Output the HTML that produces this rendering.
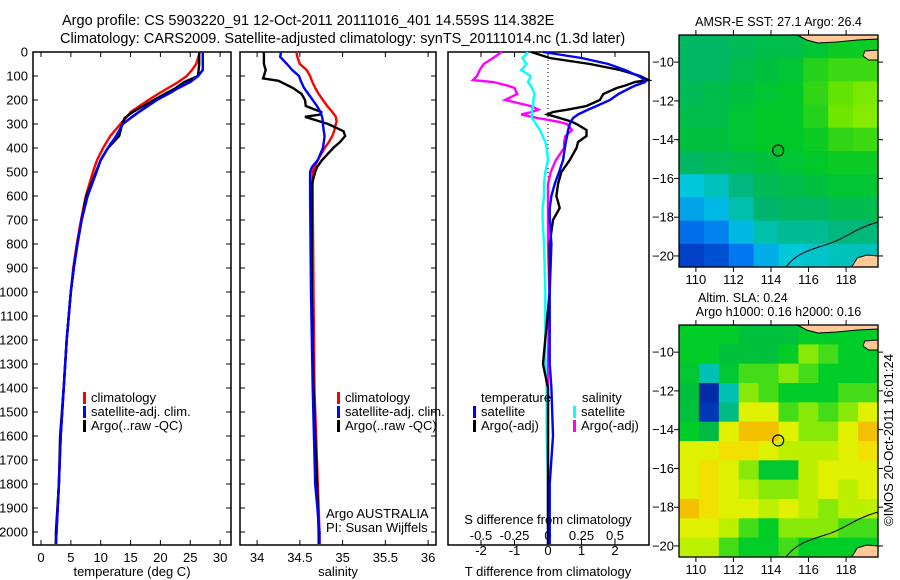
<!DOCTYPE html>
<html><head><meta charset="utf-8"><style>
html,body{margin:0;padding:0;background:#fff;}
svg{display:block;font-family:"Liberation Sans",sans-serif;}
</style></head><body>
<svg id="fig" width="900" height="580" viewBox="0 0 900 580" xmlns="http://www.w3.org/2000/svg">
<text x="62" y="25" font-size="14.5">Argo profile: CS 5903220_91 12-Oct-2011 20111016_401 14.559S 114.382E</text>
<text x="60" y="43" font-size="14.5">Climatology: CARS2009. Satellite-adjusted climatology: synTS_20111014.nc (1.3d later)</text>
<g id="g"></g>
</svg>
<script>
// ---------- data ----------
const depthTicks=[0,100,200,300,400,500,600,700,800,900,1000,1100,1200,1300,1400,1500,1600,1700,1800,1900,2000];
const depths=[0,25,50,75,100,125,150,175,200,250,275,300,350,400,450,500,600,700,800,900,1000,1200,1400,1600,1800,2000,2050];
const tempClim=[26.6,26.3,26,25.3,24.4,23,21.3,19.6,18,15,14.2,13.3,11.6,10.4,9.4,8.7,7.5,6.7,6,5.4,5,4.3,3.8,3.3,3.0,2.6,2.5];
const tempSat=[27.1,27.1,27.1,27.1,26.3,25,23,21.3,19.4,16.4,15,13.7,12.6,11.2,10,9.3,7.8,6.8,6.1,5.5,5,4.3,3.8,3.3,3.0,2.6,2.5];
const tempArgo=[26.5,26.5,26.5,26.4,26.3,24,22.6,20.7,18.9,15.4,14,13.6,13.1,11.2,10,9.2,7.6,6.8,6.1,5.5,5,4.3,3.8,3.2,3.0,2.5,2.5];
const salDepths=[0,20,50,75,100,110,120,150,175,200,225,250,260,270,290,300,330,350,375,400,450,480,500,550,600,1000,1400,1800,2000,2050];
const salClim=[34.46,34.47,34.50,34.58,34.62,34.63,34.64,34.68,34.72,34.77,34.82,34.88,34.90,34.92,34.93,34.92,34.90,34.88,34.84,34.79,34.71,34.67,34.65,34.65,34.65,34.66,34.67,34.71,34.73,34.73];
const salSat=[34.28,34.27,34.35,34.41,34.49,34.50,34.51,34.55,34.60,34.65,34.70,34.74,34.75,34.76,34.77,34.77,34.78,34.79,34.78,34.77,34.71,34.64,34.62,34.62,34.62,34.63,34.65,34.68,34.73,34.73];
const salArgo=[34.08,34.08,34.08,34.10,34.08,34.07,34.25,34.42,34.52,34.56,34.57,34.75,34.75,34.56,34.74,34.83,35.01,35.03,34.97,34.89,34.76,34.70,34.68,34.64,34.64,34.64,34.66,34.70,34.72,34.72];
const diffDepths=[0,25,50,75,100,117,125,140,150,175,200,225,240,250,260,275,290,300,325,350,375,400,450,500,550,600,650,700,800,1000,1300,1400,1600,1800,2000,2050];
const dTSat=[-0.15,1.0,1.8,2.3,2.7,2.9,2.9,2.6,2.45,2.1,1.85,1.45,1.2,1.05,0.9,0.75,0.68,0.65,0.6,0.57,0.53,0.5,0.45,0.33,0.2,0.1,0.05,0.05,0.1,0.05,0.05,0.1,0.15,0.05,0.05,0.05];
const dTArgo=[-0.5,0.05,1.25,2.15,2.75,3.0,2.6,2.3,2.05,1.65,1.55,1.15,0.6,0.15,-0.02,0.35,0.7,0.85,1.15,1.15,0.9,0.85,0.65,0.4,0.3,0.25,0.35,0.15,0.05,0.05,-0.15,0.0,0.0,0.0,0.0,0.0];
const dSArgo=[-0.345,-0.41,-0.48,-0.51,-0.53,-0.56,-0.41,-0.3,-0.25,-0.23,-0.32,-0.13,-0.07,-0.12,-0.2,-0.08,0.07,0.14,0.18,0.13,0.12,0.12,0.06,0.02,0.0,0.0,0.0,0.0,0.0,0.01,0.0,0.0,0.0,0.0,0.0,0.0];
const dSSat=[-0.15,-0.19,-0.16,-0.2,-0.13,-0.14,-0.15,-0.13,-0.12,-0.1,-0.11,-0.11,-0.12,-0.12,-0.12,-0.12,-0.1,-0.09,-0.06,-0.04,-0.02,-0.01,0.0,-0.02,-0.03,-0.03,-0.04,-0.04,-0.03,-0.02,-0.02,-0.01,-0.01,0.0,0.0,0.0];
const tTicks=[0,5,10,15,20,25,30];
const sTicks=[34,34.5,35,35.5,36];
const sTickLabels=["34","34.5","35","35.5","36"];
const dTTicks=[-2,-1,0,1,2];
const dSTicks=[-0.5,-0.25,0,0.25,0.5];
const dSTickLabels=["-0.5","-0.25","0","0.25","0.5"];
const lonTicks=[110,112,114,116,118];
const latTicks=[-10,-12,-14,-16,-18,-20];
// SST map grid (normalized colour index 0..1), rows north->south
const sstGrid=[
[.52,.52,.54,.56,.56,.6,.64,.64],
[.52,.52,.56,.58,.6,.68,.72,.72],
[.54,.56,.58,.6,.62,.7,.78,.82],
[.56,.56,.6,.62,.62,.68,.8,.84],
[.58,.58,.6,.62,.62,.64,.7,.72],
[.52,.54,.56,.58,.6,.62,.64,.64],
[.36,.4,.48,.54,.56,.58,.6,.6],
[.28,.32,.42,.5,.52,.52,.55,.55],
[.18,.22,.32,.42,.45,.45,.48,.48],
[.06,.1,.2,.3,.36,.38,.4,.4]];
// SLA grid (-1..1)
const slaGrid=[
[.1,.1,.1,0,0,0,.1,.1,.1,.1],
[.1,.1,0,0,0,.1,.3,.2,.1,.1],
[.05,-.3,.05,.2,.2,.3,.2,.1,.1,.1],
[0,-.9,-.3,.3,.2,.1,.1,.1,.2,.2],
[0,-.85,-.2,.5,.5,.2,.3,.2,.3,.5],
[.1,-.05,.5,.7,.7,.5,.3,.3,.5,.7],
[.5,.5,.6,.6,.5,.4,.4,.4,.5,.6],
[.5,.6,.5,.3,.05,.05,.4,.5,.5,.5],
[.5,.6,.5,.4,.3,.3,.4,.5,.4,.5],
[.7,.6,.5,.5,.4,.5,.4,.3,.4,.4],
[.5,.5,.4,.2,.1,.3,.3,.3,.2,.2],
[.4,.4,.2,.1,.1,.2,.1,.1,.1,.1]];
const argoLon=[114.382], argoLat=[-14.559];

// ---------- helpers ----------
const NS="http://www.w3.org/2000/svg";
const G=document.getElementById('g');
function el(t,a,p){const e=document.createElementNS(NS,t);for(const k in a)e.setAttribute(k,a[k]);(p||G).appendChild(e);return e;}
function txt(s,x,y,a,p){const e=el('text',Object.assign({x:x,y:y,'font-size':13},a||{}),p);e.textContent=s;return e;}
const yD=d=>52+0.24*d;
const TOP=52,BOT=545;
function frame(x0,x1,name){
  const r=el('rect',{x:x0,y:TOP,width:x1-x0,height:BOT-TOP,fill:'none',stroke:'#000','stroke-width':1.5});
  
  
}
function line(xs,ys,col,name,w){
  const pts=xs.map((x,i)=>x.toFixed(1)+','+ys[i].toFixed(1)).join(' ');
  const p=el('polyline',{points:pts,fill:'none',stroke:col,'stroke-width':w||2.4,'stroke-linejoin':'miter'});
  
  
}
function legendEntry(x,y,col,label,name){
  const g=el('g',{});
  
  
  el('rect',{x:x,y:y-10,width:3,height:12,fill:col},g);
  txt(label,x+8,y,{},g);
}

// depth axis labels
depthTicks.forEach(d=>{
  const t=txt(String(d),28,yD(d)+4.5,{'text-anchor':'end'});
  
  
});

// ---------- panel 1 temperature ----------
const xT=t=>41+5.97*t;
frame(33,231,'temperature-panel');
depthTicks.forEach(d=>{el('line',{x1:33,x2:38,y1:yD(d),y2:yD(d),stroke:'#000'});el('line',{x1:226,x2:231,y1:yD(d),y2:yD(d),stroke:'#000'});});
tTicks.forEach(t=>{el('line',{x1:xT(t),x2:xT(t),y1:BOT,y2:BOT-5,stroke:'#000'});el('line',{x1:xT(t),x2:xT(t),y1:TOP,y2:TOP+5,stroke:'#000'});
  const l=txt(String(t),xT(t),562,{'text-anchor':'middle'});
  
  });
line(tempClim.map(xT),depths.map(yD),'#f00','temp-climatology-line');
line(tempSat.map(xT),depths.map(yD),'#00f','temp-satellite-line');
line(tempArgo.map(xT),depths.map(yD),'#000','temp-argo-line');
line(tempSat.map(xT),depths.map(yD),'#00f','temp-satellite-line-over');
txt('temperature (deg C)',132,576,{'text-anchor':'middle',});
legendEntry(83,402,'#f00','climatology','legend-climatology');
legendEntry(83,416,'#00f','satellite-adj. clim.','legend-satellite-adj');
legendEntry(83,430,'#000','Argo(..raw -QC)','legend-argo');

// ---------- panel 2 salinity ----------
const xS=s=>240+(s-33.8)*85.5;
frame(240,436,'salinity-panel');
depthTicks.forEach(d=>{el('line',{x1:240,x2:245,y1:yD(d),y2:yD(d),stroke:'#000'});el('line',{x1:431,x2:436,y1:yD(d),y2:yD(d),stroke:'#000'});});
sTicks.forEach((s,i)=>{el('line',{x1:xS(s),x2:xS(s),y1:BOT,y2:BOT-5,stroke:'#000'});el('line',{x1:xS(s),x2:xS(s),y1:TOP,y2:TOP+5,stroke:'#000'});
  const l=txt(sTickLabels[i],xS(s),562,{'text-anchor':'middle'});
  
  });
line(salClim.map(xS),salDepths.map(yD),'#f00','sal-climatology-line');
line(salArgo.map(xS),salDepths.map(yD),'#000','sal-argo-line');
line(salSat.map(xS),salDepths.map(yD),'#00f','sal-satellite-line');
txt('salinity',338,576,{'text-anchor':'middle',});
legendEntry(337,402,'#f00','climatology','legend-climatology-2');
legendEntry(337,416,'#00f','satellite-adj. clim.','legend-satellite-adj-2');
legendEntry(337,430,'#000','Argo(..raw -QC)','legend-argo-2');
txt('Argo AUSTRALIA',326,518,{});
txt('PI: Susan Wijffels',326,532,{});

// ---------- panel 3 differences ----------
const xdT=t=>548+33.5*t, xdS=s=>548+134*s;
frame(448,649,'difference-panel');
el('line',{x1:548,x2:548,y1:TOP,y2:yD(520),stroke:'#000','stroke-dasharray':'1,3','stroke-width':1});
dTTicks.forEach(t=>{el('line',{x1:xdT(t),x2:xdT(t),y1:BOT,y2:BOT-5,stroke:'#000'});el('line',{x1:xdT(t),x2:xdT(t),y1:TOP,y2:TOP+5,stroke:'#000'});
  const l=txt(String(t),xdT(t),555,{'text-anchor':'middle'});
  
  });
dSTicks.forEach((s,i)=>{el('line',{x1:xdS(s),x2:xdS(s),y1:BOT,y2:BOT-4,stroke:'#000'});
  const l=txt(dSTickLabels[i],xdS(s),540,{'text-anchor':'middle'});
  
  });
line(dSArgo.map(xdS),diffDepths.map(yD),'#f0f','s-diff-argo-line');
line(dSSat.map(xdS),diffDepths.map(yD),'#0ff','s-diff-satellite-line');
line(dTArgo.map(xdT),diffDepths.map(yD),'#000','t-diff-argo-line');
line(dTSat.map(xdT),diffDepths.map(yD),'#00f','t-diff-satellite-line');
txt('S difference from climatology',548,524,{'text-anchor':'middle',});
txt('T difference from climatology',548,576,{'text-anchor':'middle',});
txt('temperature',481,402,{});
txt('salinity',582,402,{});
legendEntry(473,416,'#00f','satellite','legend-t-satellite');
legendEntry(473,430,'#000','Argo(-adj)','legend-t-argo');
legendEntry(573,416,'#0ff','satellite','legend-s-satellite');
legendEntry(573,430,'#f0f','Argo(-adj)','legend-s-argo');

// ---------- maps ----------
function lerpCol(stops,v){
  v=Math.max(stops[0][0],Math.min(stops[stops.length-1][0],v));
  for(let i=0;i<stops.length-1;i++){const a=stops[i],b=stops[i+1];
    if(v<=b[0]){const f=(v-a[0])/(b[0]-a[0]);
      const c=[0,1,2].map(k=>Math.round(a[1][k]+(b[1][k]-a[1][k])*f));return 'rgb('+c.join(',')+')';}}
}
const sstStops=[[0,[0,40,180]],[0.2,[0,120,240]],[0.35,[0,200,225]],[0.5,[0,180,110]],[0.62,[0,200,40]],[0.8,[110,230,0]],[1,[220,255,0]]];
const slaStops=[[-1,[0,20,140]],[-0.7,[0,90,220]],[-0.4,[0,200,230]],[-0.1,[0,180,80]],[0.1,[0,205,40]],[0.35,[170,240,0]],[0.55,[240,240,0]],[0.8,[245,160,0]]];
const MX0=679,MX1=878,LON0=109.1,LON1=119.7,LAT0=-8.6,LAT1=-20.57;
function drawMap(yTop,grid,stops,name,title1,title2){
  const yBot=yTop+232;
  const lx=lon=>MX0+(lon-LON0)*(MX1-MX0)/(LON1-LON0);
  const ly=lat=>yTop+(lat-LAT0)*(yBot-yTop)/(LAT1-LAT0);
  const g=el('g',{});
  
  
  const rows=grid.length,cols=grid[0].length,cw=(MX1-MX0)/cols,ch=232/rows;
  grid.forEach((row,r)=>row.forEach((v,c)=>{
    const cell=el('rect',{x:MX0+c*cw,y:yTop+r*ch,width:cw+0.6,height:ch+0.6,fill:lerpCol(stops,v)},g);
    
    
  }));
  // land
  el('path',{d:`M${lx(115.4)},${yTop} L${MX1},${yTop} L${MX1},${yTop+4} L${lx(118.6)},${yTop+5} L${lx(117.5)},${yTop+7} L${lx(116.5)},${yTop+8} L${lx(115.9)},${yTop+5} L${lx(115.6)},${yTop+2} Z`,fill:'#ffc896',stroke:'#000','stroke-width':1},g);
  el('path',{d:`M${MX1},${yTop+15} L${lx(119.0)},${yTop+16} L${lx(118.9)},${yTop+21} L${lx(119.2)},${yTop+25} L${MX1},${yTop+25} Z`,fill:'#ffc896',stroke:'#000','stroke-width':1},g);
  el('path',{d:`M${lx(118.3)},${yBot} L${lx(118.6)},${ly(-20.1)} L${lx(119.1)},${ly(-19.95)} L${MX1},${ly(-20.0)} L${MX1},${yBot} Z`,fill:'#ffc896',stroke:'#000','stroke-width':1},g);
  el('path',{d:`M${lx(114.8)},${yBot} C${lx(115.3)},${ly(-19.9)} ${lx(116)},${ly(-19.7)} ${lx(117)},${ly(-19.4)} S${lx(118.4)},${ly(-18.6)} ${lx(119.7)},${ly(-18.25)}`,fill:'none',stroke:'#000','stroke-width':1},g);
  argoLon.forEach((lo,i)=>{
    const c=el('circle',{cx:lx(lo),cy:ly(argoLat[i]),r:5.5,fill:'none',stroke:'#000','stroke-width':1.2},g);
    
    
  });
  el('rect',{x:MX0,y:yTop,width:MX1-MX0,height:232,fill:'none',stroke:'#000','stroke-width':1.3},g);
  lonTicks.forEach(lo=>{el('line',{x1:lx(lo),x2:lx(lo),y1:yBot,y2:yBot+5,stroke:'#000'},g);el('line',{x1:lx(lo),x2:lx(lo),y1:yTop,y2:yTop-5,stroke:'#000'},g);
    const l=txt(String(lo),lx(lo),yBot+17,{'text-anchor':'middle'},g);
    
    });
  latTicks.forEach(la=>{el('line',{x1:MX0,x2:MX0-5,y1:ly(la),y2:ly(la),stroke:'#000'},g);el('line',{x1:MX1,x2:MX1+5,y1:ly(la),y2:ly(la),stroke:'#000'},g);
    const l=txt(String(la).replace('-','\u2212'),MX0-5,ly(la)+4.5,{'text-anchor':'end'},g);
    
    });
  if(title2){txt(title1,lx(112.5),yTop-23,{'text-anchor':'middle','font-size':12.5},g);txt(title2,lx(114.4),yTop-9,{'text-anchor':'middle','font-size':12.5},g);}
  else txt(title1,lx(114.4),yTop-9,{'text-anchor':'middle','font-size':12.5},g);
}
drawMap(35,sstGrid,sstStops,'sst-map','AMSR-E SST: 27.1 Argo: 26.4');
drawMap(325,slaGrid,slaStops,'sla-map','Altim. SLA: 0.24','Argo h1000: 0.16 h2000: 0.16');
const cr=txt('\u00a9IMOS 20-Oct-2011 16:01:24',0,0,{'text-anchor':'middle','transform':'translate(893,440) rotate(-90)','font-size':13});


</script>
</body></html>
